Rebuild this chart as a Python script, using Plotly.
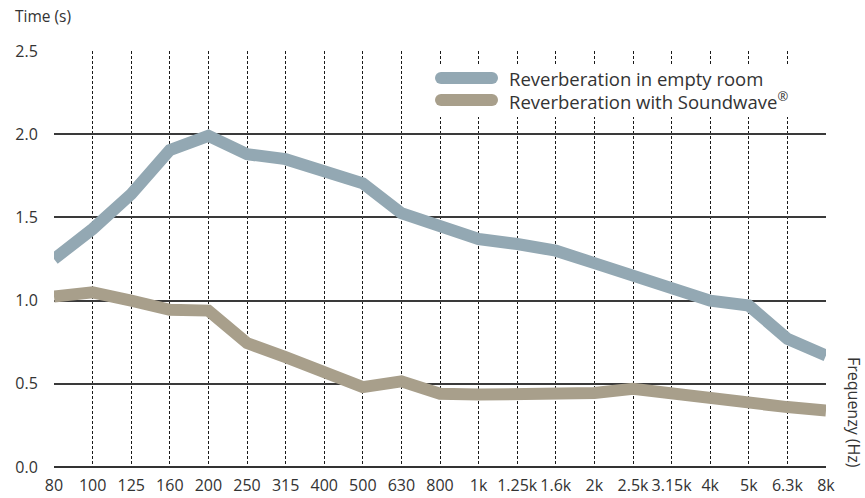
import plotly.graph_objects as go

# ---- data ----
freq_labels = ["80", "100", "125", "160", "200", "250", "315", "400", "500", "630",
               "800", "1k", "1.25k", "1.6k", "2k", "2.5k", "3.15k", "4k", "5k", "6.3k", "8k"]
empty_room = [1.25, 1.43, 1.64, 1.905, 1.99, 1.88, 1.85, 1.775, 1.705, 1.525,
              1.45, 1.37, 1.34, 1.30, 1.225, 1.155, 1.07, 1.0, 0.97, 0.77, 0.67]
with_soundwave = [1.025, 1.05, 1.0, 0.945, 0.94, 0.745, 0.66, 0.565, 0.48, 0.515,
                  0.44, 0.435, 0.435, 0.44, 0.445, 0.47, 0.44, 0.41, 0.38, 0.36, 0.34]
y_ticks = [0.0, 0.5, 1.0, 1.5, 2.0, 2.5]
series_names = ["Reverberation in empty room", "Reverberation with Soundwave<sup>®</sup>"]

BLUE = "#93a8b3"
TAN = "#a89f8b"
TEXT = "#333333"
FONT = "Open Sans"

W, H = 865, 498
ML, MR, MT, MB = 54, 39, 51, 31

x_idx = list(range(len(freq_labels)))

fig = go.Figure()
fig.add_trace(go.Scatter(x=x_idx, y=empty_room, mode="lines", name=series_names[0],
                         line=dict(color=BLUE, width=12), showlegend=False))
fig.add_trace(go.Scatter(x=x_idx, y=with_soundwave, mode="lines", name=series_names[1],
                         line=dict(color=TAN, width=12), showlegend=False))

fig.update_layout(
    width=W, height=H,
    margin=dict(l=ML, r=MR, t=MT, b=MB, autoexpand=False),
    paper_bgcolor="white", plot_bgcolor="white",
    font=dict(family=FONT, size=16, color=TEXT),
    showlegend=False,
)
fig.update_xaxes(
    range=[0, len(freq_labels) - 1], automargin=False,
    tickmode="array", tickvals=x_idx, ticktext=freq_labels, tickangle=0,
    showgrid=True, gridcolor="#1a1a1a", gridwidth=1, griddash="3px,2px",
    zeroline=False, showline=False,
    ticks="outside", ticklen=4, tickcolor="rgba(0,0,0,0)",
    tickfont=dict(family=FONT, size=16, color=TEXT),
)
fig.update_yaxes(
    range=[0, 2.5], automargin=False,
    tickmode="array", tickvals=y_ticks, tickformat=".1f",
    showgrid=True, gridcolor="#3a3a3a", gridwidth=1.5,
    zeroline=True, zerolinecolor="#333333", zerolinewidth=2,
    showline=False,
    ticks="outside", ticklen=12, tickcolor="rgba(0,0,0,0)",
    tickfont=dict(family=FONT, size=16, color=TEXT),
)

# legend drawn as shapes + annotations
def px_x(px):
    return (px - ML) / (W - ML - MR)

def px_y(py):
    return (H - MB - py) / (H - MT - MB)

shapes = [
    dict(type="rect", xref="paper", yref="paper", x0=px_x(425), x1=px_x(818),
         y0=px_y(117), y1=px_y(65), fillcolor="white", line=dict(width=0), layer="above"),
]
for color, ypx in ((BLUE, 78), (TAN, 100)):
    shapes.append(dict(type="line", xref="paper", yref="paper", x0=px_x(441), x1=px_x(492),
                       y0=px_y(ypx), y1=px_y(ypx), line=dict(color=color, width=12),
                       layer="above"))
    for cx in (441, 492):
        shapes.append(dict(type="circle", xref="paper", yref="paper",
                           xsizemode="pixel", ysizemode="pixel",
                           xanchor=px_x(cx), yanchor=px_y(ypx),
                           x0=-6, x1=6, y0=-6, y1=6,
                           fillcolor=color, line=dict(width=0), layer="above"))
fig.update_layout(shapes=shapes)

annotations = [
    dict(text=series_names[0], xref="paper", yref="paper", x=px_x(507), y=px_y(78),
         xanchor="left", yanchor="middle", showarrow=False,
         font=dict(family=FONT, size=18.5, color=TEXT)),
    dict(text=series_names[1], xref="paper", yref="paper", x=px_x(507), y=px_y(100),
         xanchor="left", yanchor="middle", showarrow=False,
         font=dict(family=FONT, size=18.5, color=TEXT)),
    dict(text="Time (s)", xref="paper", yref="paper", x=px_x(13), y=px_y(16),
         xanchor="left", yanchor="middle", showarrow=False,
         font=dict(family=FONT, size=15.5, color=TEXT)),
    dict(text="Frequenzy (Hz)", xref="paper", yref="paper", x=px_x(854), y=px_y(413),
         xanchor="center", yanchor="middle", showarrow=False, textangle=90,
         font=dict(family=FONT, size=16, color=TEXT)),
]
fig.update_layout(annotations=annotations)

fig.write_html("out.html", config={"displayModeBar": False},
               post_script="document.body.style.margin='0';")
